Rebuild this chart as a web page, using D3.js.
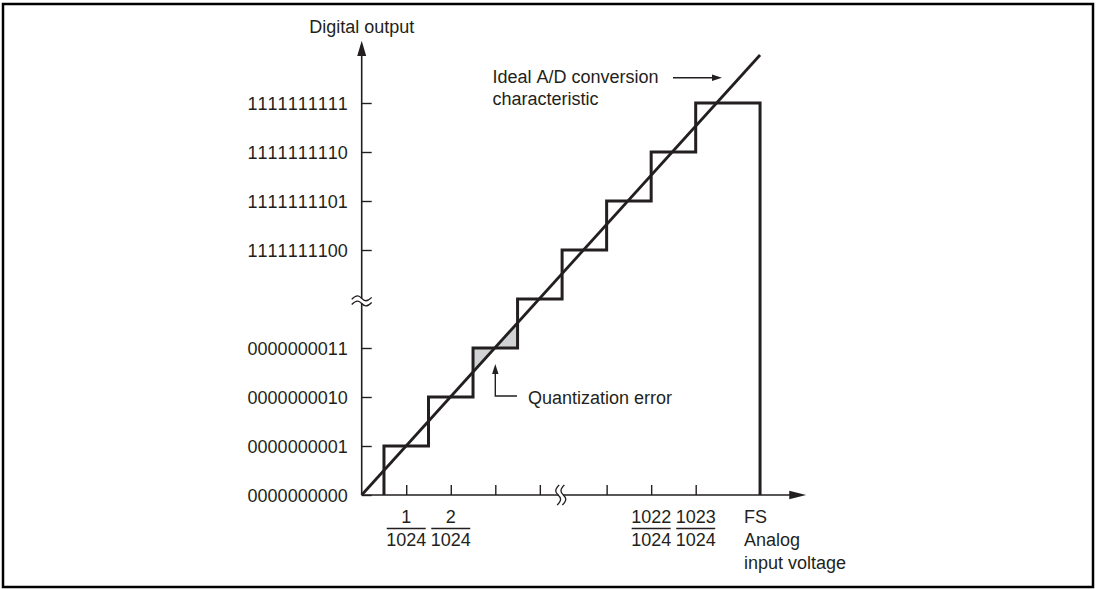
<!DOCTYPE html>
<html><head><meta charset="utf-8">
<script src="https://cdn.jsdelivr.net/npm/d3@7"></script>
<style>
html,body{margin:0;padding:0;background:#fff;}
svg{display:block;}
text{font-family:"Liberation Sans",Arial,Helvetica,sans-serif;fill:#231f20;font-kerning:none;}
</style></head>
<body>
<script>
// ---- data (units: LSB steps on the drawn, broken axes) ----
const yTickLevels = [0, 1, 2, 3, 5, 6, 7, 8];
const yTickLabels = ["0000000000","0000000001","0000000010","0000000011","1111111100","1111111101","1111111110","1111111111"];
const xTickPositions = [1, 2, 3, 4, 5.5, 6.5, 7.5];
const xTickNumerators = ["1", "2", "", "", "", "1022", "1023"];
const xTickDenominator = "1024";
const stepEdges = [0.5, 1.5, 2.5, 3.5, 4.5, 5.5, 6.5, 7.5];
const stepLevels = [1, 2, 3, 4, 5, 6, 7, 8];
const fullScale = 8.945;
const idealLine = [[0, 0], [fullScale, fullScale * 1.004]];
const yBreakAt = 3.96;
const xBreakAt = 4.47;
const errorRegion = [[2.5, 2.5], [2.5, 3], [3.5, 3], [3.5, 3.5]];

const W = 1096, H = 589;
const ink = "#231f20";
const svg = d3.select("body").append("svg").attr("width", W).attr("height", H);

svg.append("rect").attr("x", 3).attr("y", 4).attr("width", 1090).attr("height", 583)
  .attr("fill", "none").attr("stroke", "#000").attr("stroke-width", 2.5);

const x = d3.scaleLinear().domain([0, 9]).range([361.7, 762.5]);
const y = d3.scaleLinear().domain([0, 9]).range([495, 54]);

// shaded quantization error
svg.append("path")
  .attr("d", d3.line().x(d => x(d[0])).y(d => y(d[1]))(errorRegion) + "Z")
  .attr("fill", "#d1d2d4").attr("stroke", "none");

// Y axis
const yAxis = d3.axisLeft(y).tickValues(yTickLevels)
  .tickFormat((d, i) => yTickLabels[i]).tickSize(-10).tickPadding(14);
const gy = svg.append("g").attr("transform", `translate(${x(0)},0)`).call(yAxis);
gy.select(".domain").remove();
gy.selectAll(".tick line").attr("stroke", ink).attr("stroke-width", 1.4);
gy.selectAll(".tick text").attr("font-size", 18).attr("fill", ink)
  .attr("font-family", '"Liberation Sans",Arial,sans-serif').attr("dy", "0.36em");

// X axis
const xAxis = d3.axisBottom(x).tickValues(xTickPositions).tickFormat("").tickSize(-10);
const gx = svg.append("g").attr("transform", `translate(0,${y(0)})`).call(xAxis);
gx.select(".domain").remove();
gx.selectAll(".tick line").attr("stroke", ink).attr("stroke-width", 1.4);

// axis lines with arrows
svg.append("line").attr("x1", x(0)).attr("y1", y(0)).attr("x2", x(0)).attr("y2", y(9.0))
  .attr("stroke", ink).attr("stroke-width", 1.6);
svg.append("path").attr("d", `M${x(0)},${y(9.27)} L${x(0)-4.5},${y(8.96)} L${x(0)+4.5},${y(8.96)} Z`).attr("fill", ink);
svg.append("line").attr("x1", x(0)).attr("y1", y(0)).attr("x2", x(9.7)).attr("y2", y(0))
  .attr("stroke", ink).attr("stroke-width", 1.6);
svg.append("path").attr("d", `M${x(9.98)},${y(0)} L${x(9.6)},${y(0)-4.2} L${x(9.6)},${y(0)+4.2} Z`).attr("fill", ink);

// x tick fraction labels
xTickPositions.forEach((p, i) => {
  if (!xTickNumerators[i]) return;
  const cx = x(p);
  svg.append("text").attr("x", cx).attr("y", 523).attr("text-anchor", "middle").attr("font-size", 18).text(xTickNumerators[i]);
  svg.append("line").attr("x1", cx - 19.5).attr("x2", cx + 19.5).attr("y1", 528.5).attr("y2", 528.5)
    .attr("stroke", ink).attr("stroke-width", 1.5);
  svg.append("text").attr("x", cx).attr("y", 546).attr("text-anchor", "middle").attr("font-size", 18).text(xTickDenominator);
});

// FS label
const fsX = x(fullScale) - 16;
const fsT = svg.append("text").attr("x", fsX).attr("y", 523).attr("font-size", 18);
fsT.append("tspan").attr("x", fsX).text("FS");
fsT.append("tspan").attr("x", fsX).attr("dy", 23).text("Analog");
fsT.append("tspan").attr("x", fsX).attr("dy", 22.5).text("input voltage");

// Y axis title
svg.append("text").attr("x", x(0)).attr("y", 33).attr("text-anchor", "middle").attr("font-size", 18).text("Digital output");

// break marks
function wave(cx, cy, horizontal, len) {
  const a = len / 2, h = 2.6;
  if (horizontal) return `M${cx-a},${cy+1} C${cx-a/2},${cy-h*1.6} ${cx-a/4},${cy-h} ${cx},${cy} S${cx+a/2},${cy+h*1.6} ${cx+a},${cy-1}`;
  return `M${cx+1},${cy-a} C${cx-h*1.6},${cy-a/2} ${cx-h},${cy-a/4} ${cx},${cy} S${cx+h*1.6},${cy+a/2} ${cx-1},${cy+a}`;
}
const yb = y(yBreakAt);
svg.append("rect").attr("x", x(0) - 3).attr("y", yb - 2.3).attr("width", 6).attr("height", 4.6).attr("fill", "#fff");
[-2.6, 2.6].forEach(o => svg.append("path").attr("d", wave(x(0), yb + o, true, 20))
  .attr("fill", "none").attr("stroke", ink).attr("stroke-width", 1.3));
const xb = x(xBreakAt);
svg.append("rect").attr("x", xb - 2.3).attr("y", y(0) - 3).attr("width", 4.6).attr("height", 6).attr("fill", "#fff");
[-2.6, 2.6].forEach(o => svg.append("path").attr("d", wave(xb + o, y(0), false, 20))
  .attr("fill", "none").attr("stroke", ink).attr("stroke-width", 1.3));

// staircase
const stairPath = [[stepEdges[0], 0]];
stepEdges.forEach((e, i) => {
  const prev = i === 0 ? 0 : stepLevels[i - 1];
  stairPath.push([e, prev]);
  stairPath.push([e, stepLevels[i]]);
});
stairPath.push([fullScale, stepLevels[stepLevels.length - 1]]);
stairPath.push([fullScale, 0]);
svg.append("path").attr("d", d3.line().x(d => x(d[0])).y(d => y(d[1]))(stairPath))
  .attr("fill", "none").attr("stroke", ink).attr("stroke-width", 3).attr("stroke-linejoin", "miter");

// ideal line
svg.append("path").attr("d", d3.line().x(d => x(d[0])).y(d => y(d[1]))(idealLine))
  .attr("fill", "none").attr("stroke", ink).attr("stroke-width", 2.8);

// annotations
const idl = svg.append("text").attr("x", 492.5).attr("y", 83).attr("font-size", 18);
idl.append("tspan").attr("x", 492.5).text("Ideal A/D conversion");
idl.append("tspan").attr("x", 492.5).attr("dy", 22).text("characteristic");
svg.append("line").attr("x1", 673).attr("x2", 715).attr("y1", 77.7).attr("y2", 77.7).attr("stroke", ink).attr("stroke-width", 1.4);
svg.append("path").attr("d", "M722,77.7 L712,74.5 L712,80.9 Z").attr("fill", ink);

const qx = x(3);
svg.append("path").attr("d", `M${qx},372 L${qx},396 L517,396`).attr("fill", "none").attr("stroke", ink).attr("stroke-width", 1.4);
svg.append("path").attr("d", `M${qx},364 L${qx-3.2},374 L${qx+3.2},374 Z`).attr("fill", ink);
svg.append("text").attr("x", 528).attr("y", 404).attr("font-size", 18).text("Quantization error");
</script>
</body></html>
